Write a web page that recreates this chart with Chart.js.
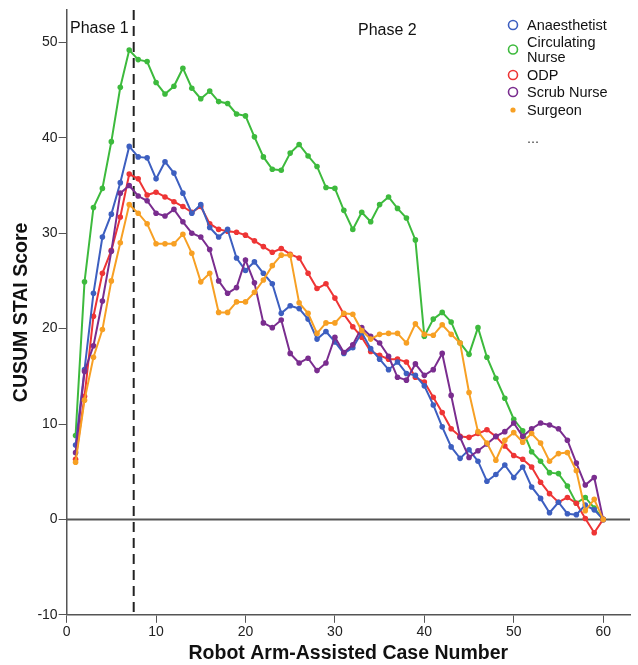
<!DOCTYPE html>
<html><head><meta charset="utf-8">
<script src="https://cdn.jsdelivr.net/npm/chart.js@4.4.1/dist/chart.umd.min.js"></script>
<style>html,body{margin:0;padding:0;background:#fff}#wrap{width:638px;height:665px}</style>
</head><body><div id="wrap"><canvas id="c" width="638" height="665"></canvas></div>
<script>
const caseNumbers = Array.from({length:60},(_,i)=>i+1);
const seriesNames = ["Anaesthetist","Circulating Nurse","ODP","Scrub Nurse","Surgeon"];
const anaesthetist = [7.8,15.7,23.7,29.6,32.0,35.3,39.1,38.0,37.9,35.7,37.5,36.3,34.2,32.1,33.0,30.6,29.6,30.4,27.4,26.1,27.0,25.8,24.7,21.6,22.4,22.1,21.0,18.9,19.7,18.6,17.4,18.0,19.6,17.9,16.8,15.7,16.5,15.3,15.1,14.0,12.0,9.7,7.6,6.4,7.3,6.1,4.0,4.7,5.7,4.4,5.5,3.4,2.2,0.7,1.8,0.6,0.5,1.5,1.0,0];
const circulatingNurse = [8.8,24.9,32.7,34.7,39.6,45.3,49.2,48.2,48.0,45.8,44.6,45.4,47.3,45.2,44.1,44.9,43.8,43.6,42.5,42.3,40.1,38.0,36.7,36.6,38.4,39.3,38.1,37.0,34.8,34.7,32.4,30.4,32.2,31.2,33.0,33.8,32.6,31.6,29.3,19.2,21.0,21.7,20.7,18.5,17.3,20.1,17.0,14.8,12.7,10.5,9.3,7.1,6.1,4.9,4.8,3.5,1.7,2.3,1.2,0];
const odp = [6.3,12.9,21.3,25.8,28.2,31.7,36.2,35.7,34.0,34.3,33.8,33.3,32.8,32.2,32.8,31.0,30.4,30.2,30.1,29.8,29.2,28.6,28.0,28.4,27.8,27.4,25.8,24.2,24.7,23.2,21.5,20.2,19.1,17.6,17.2,16.8,16.8,16.5,14.9,14.4,12.8,11.2,9.5,8.7,8.6,9.0,9.4,8.7,7.7,6.7,6.3,5.5,3.9,2.7,1.8,2.3,1.7,0.1,-1.4,0];
const scrubNurse = [7.0,15.5,18.2,22.9,28.1,34.2,35.0,33.9,33.4,32.1,31.8,32.5,31.2,30.0,29.6,28.3,25.0,23.7,24.3,27.2,24.8,20.6,20.1,20.9,17.4,16.4,16.9,15.6,16.4,19.1,17.5,18.3,20.1,19.2,18.5,17.1,14.9,14.6,16.3,15.1,15.7,17.4,13.0,8.6,6.5,7.2,7.9,8.7,9.2,10.1,8.7,9.5,10.1,9.9,9.5,8.3,5.9,3.6,4.4,0];
const surgeon = [6.0,12.5,17.0,19.9,25.0,29.0,33.0,32.1,31.0,28.9,28.9,28.9,29.9,27.9,24.9,25.8,21.7,21.7,22.8,22.8,23.8,25.1,26.6,27.7,27.7,22.7,21.6,19.5,20.6,20.6,21.6,21.5,19.8,18.9,19.4,19.5,19.5,18.5,20.5,19.4,19.3,20.4,19.4,18.5,13.3,9.2,8.0,6.2,8.3,9.1,8.1,9.0,8.0,6.1,6.9,7.0,5.1,0.9,2.1,0];
const xTicks = [0,10,20,30,40,50,60];
const yTicks = [-10,0,10,20,30,40,50];
const phaseLabels = ["Phase 1","Phase 2"];
const phaseBoundary = 7.5;
const colors = ["#3d5fc0","#3dba3d","#ee3535","#7a2d8f","#f7a024"];
const FONT = '"Liberation Sans", Arial, sans-serif';

function mk(name, vals, i){
  return {label:name, data: caseNumbers.map((x,k)=>({x:x,y:vals[k]})),
    borderColor:colors[i], backgroundColor:colors[i], borderWidth:2,
    pointRadius:2.8, pointHoverRadius:2.8, pointBorderWidth:0, tension:0};
}
const datasets = [
  mk(seriesNames[4], surgeon, 4),
  mk(seriesNames[3], scrubNurse, 3),
  mk(seriesNames[0], anaesthetist, 0),
  mk(seriesNames[2], odp, 2),
  mk(seriesNames[1], circulatingNurse, 1)
];

const overlay = {
  id:'overlay',
  beforeDatasetsDraw(chart){
    const {ctx, chartArea:a, scales:{x,y}} = chart;
    ctx.save();
    const y0 = y.getPixelForValue(0);
    ctx.strokeStyle = '#555'; ctx.lineWidth = 2;
    ctx.beginPath(); ctx.moveTo(a.left, y0); ctx.lineTo(a.right, y0); ctx.stroke();
    const xp = x.getPixelForValue(phaseBoundary);
    ctx.strokeStyle = '#222'; ctx.lineWidth = 2; ctx.setLineDash([10,6]);
    ctx.beginPath(); ctx.moveTo(xp, a.top); ctx.lineTo(xp, a.bottom); ctx.stroke();
    ctx.setLineDash([]);
    ctx.restore();
  },
  afterDatasetsDraw(chart){
    const {ctx} = chart;
    ctx.save();
    ctx.fillStyle = '#111';
    ctx.font = '16px ' + FONT;
    ctx.textBaseline = 'middle';
    ctx.fillText(phaseLabels[0], 70, 29);
    ctx.fillText(phaseLabels[1], 358, 31);
    const items = [
      {t:["Anaesthetist"], ys:[26], c:colors[0], ring:true},
      {t:["Circulating","Nurse"], ys:[43,58], c:colors[1], ring:true},
      {t:["ODP"], ys:[76], c:colors[2], ring:true},
      {t:["Scrub Nurse"], ys:[93], c:colors[3], ring:true},
      {t:["Surgeon"], ys:[111], c:colors[4], ring:false}
    ];
    ctx.font = '14.5px ' + FONT;
    const lx = 513, tx = 527;
    items.forEach(it=>{
      const cy = it.ys.reduce((s,v)=>s+v,0)/it.ys.length - 1;
      ctx.beginPath();
      if(it.ring){ ctx.strokeStyle = it.c; ctx.lineWidth = 1.6; ctx.arc(lx, cy, 4.5, 0, Math.PI*2); ctx.stroke(); }
      else { ctx.fillStyle = it.c; ctx.arc(lx, cy, 2.6, 0, Math.PI*2); ctx.fill(); }
      ctx.fillStyle = '#111';
      it.t.forEach((s,j)=>ctx.fillText(s, tx, it.ys[j]));
    });
    ctx.fillStyle = '#444';
    ctx.fillText('...', tx, 139);
    ctx.restore();
  }
};

new Chart(document.getElementById('c'), {
  type:'line',
  data:{datasets},
  options:{
    responsive:false, animation:false,
    layout:{padding:{top:10,right:8,left:10,bottom:0}},
    plugins:{legend:{display:false}, tooltip:{enabled:false}},
    scales:{
      x:{type:'linear', min:0, max:63,
        afterBuildTicks(s){ s.ticks = xTicks.map(v=>({value:v})); },
        grid:{drawOnChartArea:false, drawTicks:true, tickLength:8, color:'#555'},
        border:{display:true, color:'#555', width:1.5},
        ticks:{color:'#222', font:{size:14, family:FONT}, padding:1, maxRotation:0},
        title:{display:true, text:'Robot Arm-Assisted Case Number', color:'#111',
          font:{size:19.5, weight:'bold', family:FONT}, padding:{top:0,bottom:0}}
      },
      y:{type:'linear', min:-10, max:53.4,
        afterBuildTicks(s){ s.ticks = yTicks.map(v=>({value:v})); },
        grid:{drawOnChartArea:false, drawTicks:true, tickLength:8, color:'#555'},
        border:{display:true, color:'#555', width:1.5},
        ticks:{color:'#222', font:{size:14, family:FONT}, padding:1},
        title:{display:true, text:'CUSUM STAI Score', color:'#111',
          font:{size:19.5, weight:'bold', family:FONT}, padding:{top:0,bottom:3}}
      }
    }
  },
  plugins:[overlay]
});
</script></body></html>
